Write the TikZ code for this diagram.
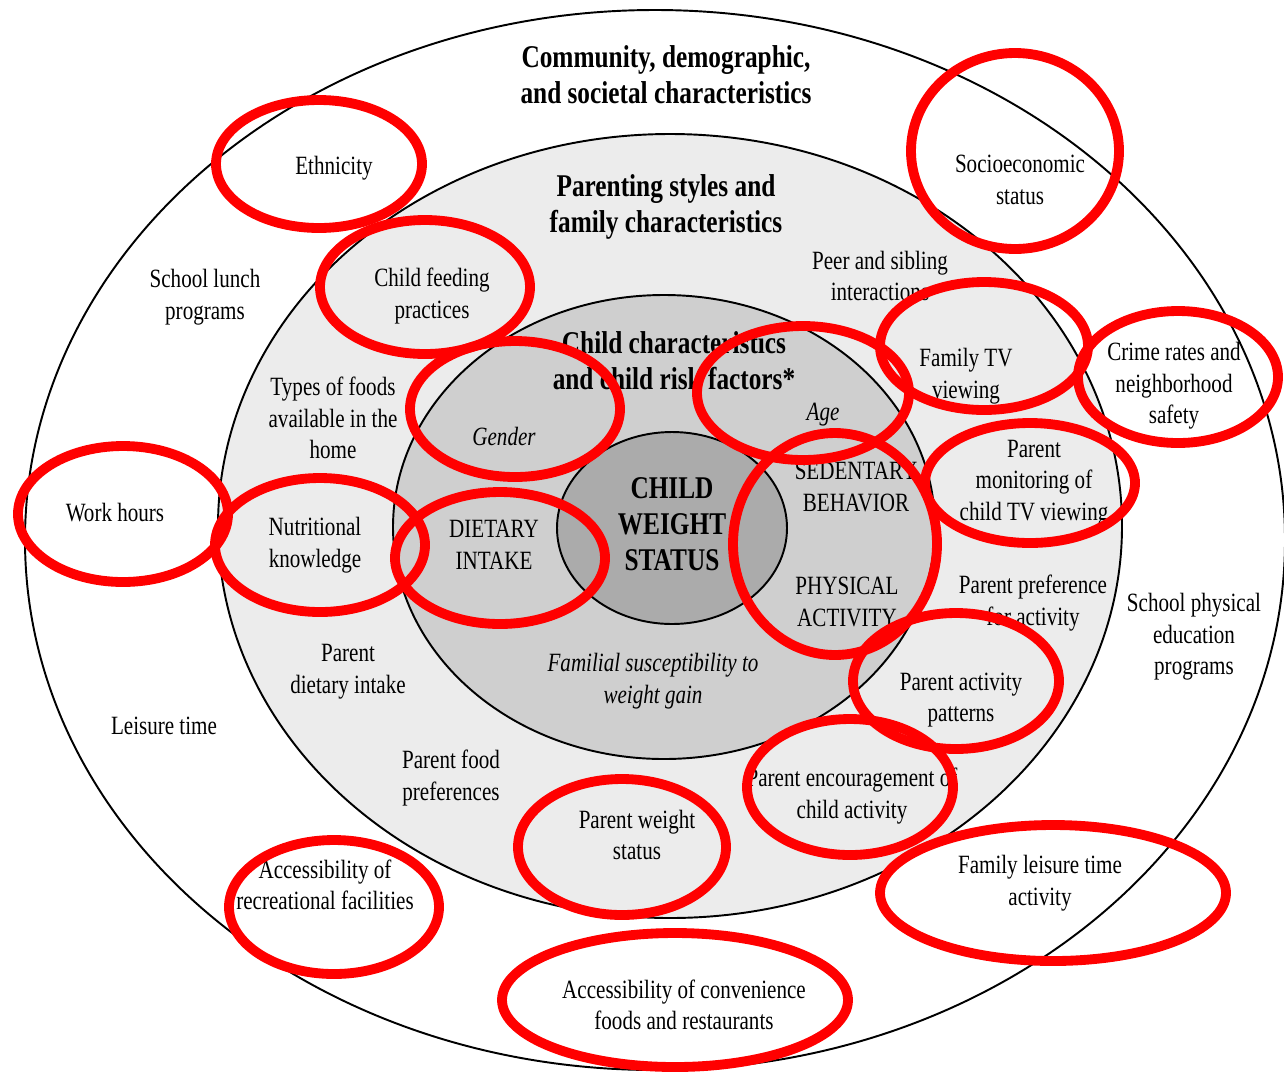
\documentclass[tikz,border=0pt]{standalone}
\usepackage{fontspec}
\setmainfont{Liberation Serif}[FakeStretch=0.8]
\definecolor{famfill}{gray}{0.925}
\definecolor{childfill}{gray}{0.81}
\definecolor{corefill}{gray}{0.67}

\begin{document}
\begin{tikzpicture}[x=0.02cm, y=-0.02cm,
  txt/.style={align=center, inner sep=0pt, font=\fontsize{15}{18}\selectfont},
  itl/.style={align=center, inner sep=0pt, font=\fontsize{15}{18}\selectfont\itshape},
  hdr/.style={align=center, inner sep=0pt, font=\fontsize{18}{20.5}\selectfont\bfseries},
  ring/.style={draw=red, line width=5.6pt}]
\useasboundingbox[fill=white] (0,0) rectangle (1284,1076);

% nested layers
\draw[line width=1.1pt, fill=white] (655,540) ellipse [x radius=630, y radius=530];
\draw[line width=1.1pt, fill=famfill] (670,526) ellipse [x radius=452, y radius=392];
\draw[line width=1.1pt, fill=childfill] (664,527) ellipse [x radius=271, y radius=232];
\draw[line width=1.1pt, fill=corefill] (672,528) ellipse [x radius=115, y radius=96];

% community layer
\node[hdr] (community) at (666,75) {Community, demographic,\\and societal characteristics};
\node[txt] (ethnicity) at (334,168) {Ethnicity};
\node[txt] (ses) at (1020,180) {Socioeconomic\\status};
\node[txt] (lunch) at (205,297) {School lunch\\programs};
\node[txt] (crime) at (1174,386) {Crime rates and\\neighborhood\\safety};
\node[txt] (work) at (115,513) {Work hours};
\node[txt] (schoolpe) at (1194,637) {School physical\\education\\programs};
\node[txt] (leisure) at (164,726) {Leisure time};
\node[txt] (recfac) at (325,885) {Accessibility of\\recreational facilities};
\node[txt] (famleisure) at (1040,883) {Family leisure time\\activity};
\node[txt] (convenience) at (684,1005) {Accessibility of convenience\\foods and restaurants};

% family layer
\node[hdr] (parenting) at (666,207) {Parenting styles and\\family characteristics};
\node[txt] (feeding) at (432,296) {Child feeding\\practices};
\node[txt] (peer) at (880,276) {Peer and sibling\\interactions};
\node[txt] (foods) at (333,418) {Types of foods\\available in the\\home};
\node[txt] (familytv) at (966,376) {Family TV\\viewing};
\node[txt] (monitor) at (1034,483) {Parent\\monitoring of\\child TV viewing};
\node[txt] (nutrition) at (315,545) {Nutritional\\knowledge};
\node[txt] (preference) at (1033,603) {Parent preference\\for activity};
\node[txt] (pdiet) at (348,672) {Parent\\dietary intake};
\node[txt] (pactivity) at (961,700) {Parent activity\\patterns};
\node[txt] (pfood) at (451,778) {Parent food\\preferences};
\node[txt] (encourage) at (852,796) {Parent encouragement of\\child activity};
\node[txt] (pweight) at (637,835) {Parent weight\\status};

% child layer
\node[hdr] (childchar) at (674,361) {Child characteristics\\and child risk factors*};
\node[itl] (gender) at (504,436) {Gender};
\node[itl] (age) at (823,415) {Age};
\node[txt] (dietary) at (494,545) {DIETARY\\INTAKE};
\node[txt] (sedentary) at (856,487) {SEDENTARY\\BEHAVIOR};
\node[txt] (physical) at (847,602) {PHYSICAL\\ACTIVITY};
\node[itl] (familial) at (653,681) {Familial susceptibility to\\weight gain};

% core
\node[hdr] (core) at (672,524) {CHILD\\WEIGHT\\STATUS};

% red markings
\draw[ring] (319,164) ellipse [x radius=103, y radius=64];
\draw[ring] (1015,151) ellipse [x radius=104, y radius=98];
\draw[ring] (425,287) ellipse [x radius=105, y radius=67];
\draw[ring] (515,409) ellipse [x radius=105, y radius=68];
\draw[ring] (803,393) ellipse [x radius=106, y radius=67];
\draw[ring] (984,346) ellipse [x radius=104, y radius=64];
\draw[ring] (1178,377) ellipse [x radius=100, y radius=66];
\draw[ring] (123,514) ellipse [x radius=105, y radius=68];
\draw[ring] (320,545) ellipse [x radius=105, y radius=67];
\draw[ring] (500,558) ellipse [x radius=105, y radius=66];
\draw[ring] (835,544) ellipse [x radius=102, y radius=111];
\draw[ring] (1030,483) ellipse [x radius=105, y radius=60];
\draw[ring] (956,681) ellipse [x radius=103, y radius=68];
\draw[ring] (850,787) ellipse [x radius=103, y radius=68];
\draw[ring] (622,847) ellipse [x radius=104, y radius=68];
\draw[ring] (334,907) ellipse [x radius=105, y radius=67];
\draw[ring] (1053,893) ellipse [x radius=173, y radius=68];
\draw[ring] (675,1000) ellipse [x radius=173, y radius=67];
\end{tikzpicture}
\end{document}
